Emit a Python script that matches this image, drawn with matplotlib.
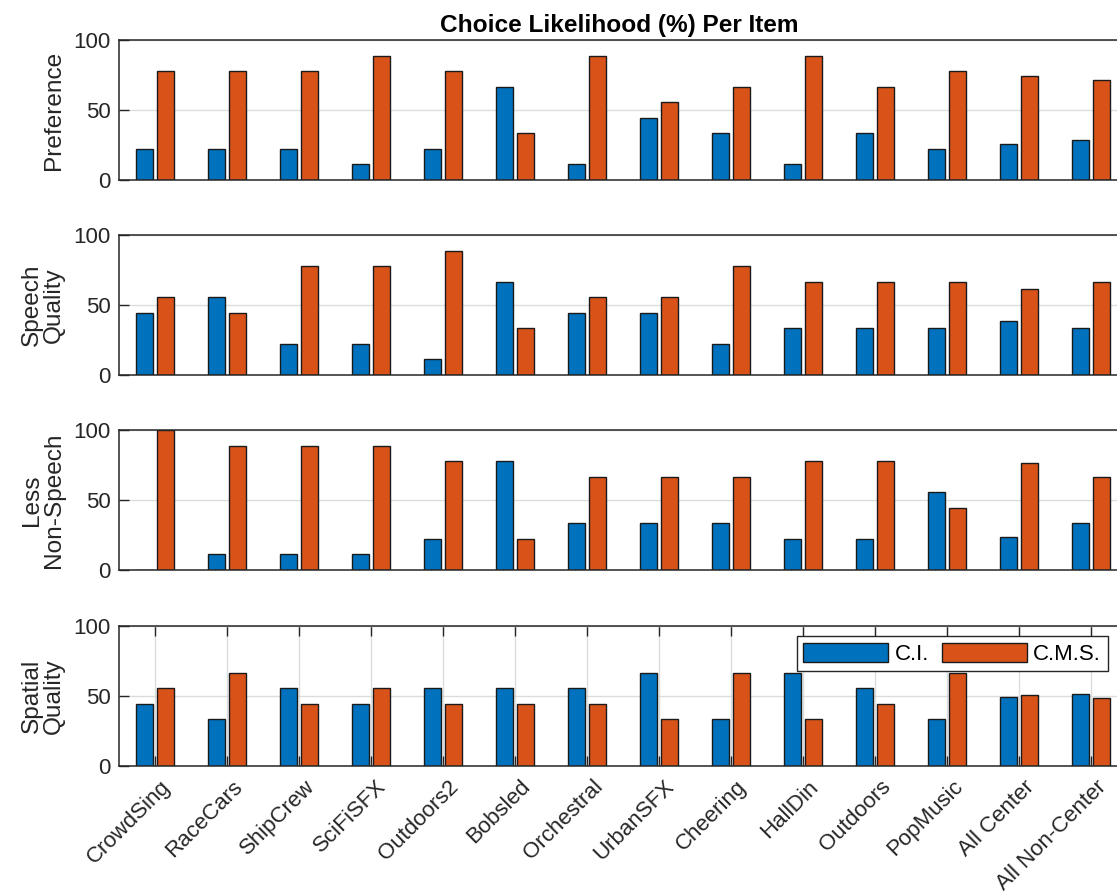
import numpy as np
import matplotlib.pyplot as plt
from matplotlib.transforms import ScaledTranslation

plt.rcParams['font.family'] = ['Liberation Sans', 'DejaVu Sans']

items = ['CrowdSing', 'RaceCars', 'ShipCrew', 'SciFiSFX', 'Outdoors2', 'Bobsled',
         'Orchestral', 'UrbanSFX', 'Cheering', 'HallDin', 'Outdoors', 'PopMusic',
         'All Center', 'All Non-Center']

# choice likelihood (%) for C.I. and C.M.S., one pair of lists per question
pref_ci = [22.2, 22.2, 22.2, 11.1, 22.2, 66.7, 11.1, 44.4, 33.3, 11.1, 33.3, 22.2, 25.4, 28.9]
pref_cms = [77.8, 77.8, 77.8, 88.9, 77.8, 33.3, 88.9, 55.6, 66.7, 88.9, 66.7, 77.8, 74.6, 71.1]

speech_ci = [44.4, 55.6, 22.2, 22.2, 11.1, 66.7, 44.4, 44.4, 22.2, 33.3, 33.3, 33.3, 38.3, 33.3]
speech_cms = [55.6, 44.4, 77.8, 77.8, 88.9, 33.3, 55.6, 55.6, 77.8, 66.7, 66.7, 66.7, 61.7, 66.7]

nonspeech_ci = [0.0, 11.1, 11.1, 11.1, 22.2, 77.8, 33.3, 33.3, 33.3, 22.2, 22.2, 55.6, 23.8, 33.3]
nonspeech_cms = [100.0, 88.9, 88.9, 88.9, 77.8, 22.2, 66.7, 66.7, 66.7, 77.8, 77.8, 44.4, 76.2, 66.7]

spatial_ci = [44.4, 33.3, 55.6, 44.4, 55.6, 55.6, 55.6, 66.7, 33.3, 66.7, 55.6, 33.3, 49.2, 51.1]
spatial_cms = [55.6, 66.7, 44.4, 55.6, 44.4, 44.4, 44.4, 33.3, 66.7, 33.3, 44.4, 66.7, 50.8, 48.9]

panels = [
    ('Preference', pref_ci, pref_cms),
    ('Speech\nQuality', speech_ci, speech_cms),
    ('Less\nNon-Speech', nonspeech_ci, nonspeech_cms),
    ('Spatial\nQuality', spatial_ci, spatial_cms),
]

blue = '#0072BD'
orange = '#D95319'
axcol = '#262626'
fs = 16

fig = plt.figure(figsize=(11.17, 8.96), dpi=100)

x = np.arange(1, len(items) + 1)
w = 0.23
off = 0.146

# axes run slightly past the right edge of the figure
left, width = 119 / 1117, 1008 / 1117
bottoms = [1 - 180 / 896, 1 - 375 / 896, 1 - 570 / 896, 1 - 766 / 896]
height = 140 / 896

axes = []
for i, (lab, ci, cms) in enumerate(panels):
    ax = fig.add_axes([left, bottoms[i], width, height])
    ax.bar(x - off, ci, w, color=blue, edgecolor='#1a1a1a', linewidth=1.0, label='C.I.')
    ax.bar(x + off, cms, w, color=orange, edgecolor='#1a1a1a', linewidth=1.0, label='C.M.S.')
    ax.set_xlim(0.5, len(items) + 0.5)
    ax.set_ylim(0, 100)
    ax.set_yticks([0, 50, 100])
    ax.set_axisbelow(True)
    ax.grid(axis='y', color='#dcdcdc', linewidth=1.0)
    ax.tick_params(axis='y', direction='in', length=7, width=1.0, labelsize=fs,
                   colors=axcol, right=True, pad=6)
    for s in ax.spines.values():
        s.set_color(axcol)
        s.set_linewidth(1.1)
    ax.set_ylabel(lab, fontsize=fs * 1.1, color=axcol, linespacing=1.0)
    ax.yaxis.set_label_coords(-0.054, 0.5)
    if i < 3:
        ax.set_xticks([])
    else:
        ax.set_xticks(x)
        ax.grid(axis='x', color='#dcdcdc', linewidth=1.0)
        ax.tick_params(axis='x', direction='in', length=7, width=1.0, top=True,
                       colors=axcol, labelsize=fs, pad=6)
        ax.set_xticklabels(items, rotation=45, ha='right', va='top',
                           rotation_mode='anchor')
        shift = ScaledTranslation(5 / 100, -2 / 100, fig.dpi_scale_trans)
        for t in ax.get_xticklabels():
            t.set_transform(t.get_transform() + shift)
        leg = ax.legend(ncol=2, loc='upper right', bbox_to_anchor=(0.981, 0.929),
                        borderaxespad=0, fontsize=fs, handlelength=3.8,
                        handleheight=0.95, handletextpad=0.3, columnspacing=0.6,
                        borderpad=0.3, fancybox=False, framealpha=1,
                        edgecolor=axcol)
        leg.get_frame().set_linewidth(1.0)
    axes.append(ax)

axes[0].set_title('Choice Likelihood (%) Per Item', fontsize=fs * 1.1, fontweight='bold',
                  x=0.496, pad=6, color='black')

fig.savefig('out.png', dpi=100)
